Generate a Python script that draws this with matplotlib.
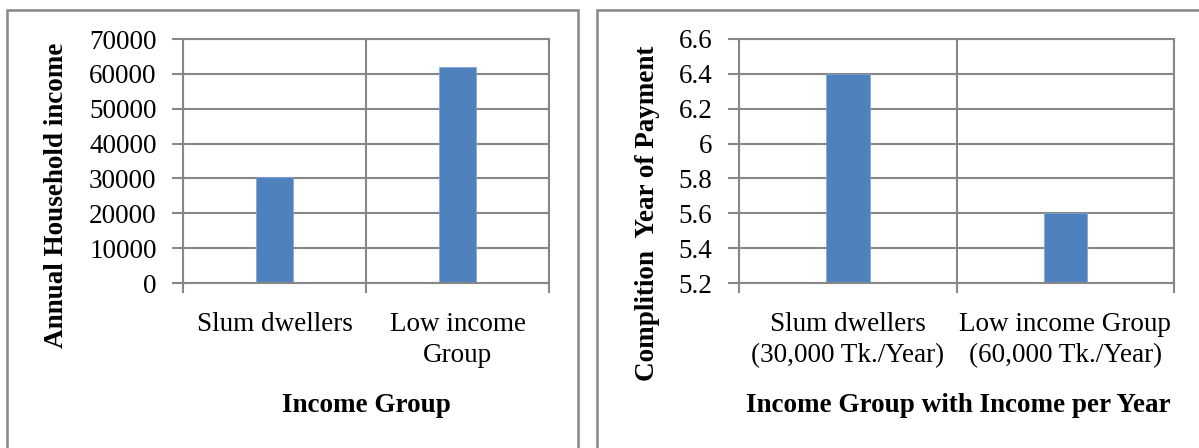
import matplotlib.pyplot as plt
from matplotlib.patches import Rectangle

plt.rcParams['font.family'] = ['Liberation Serif', 'DejaVu Serif']

# left chart
groups1 = ["Slum dwellers", "Low income\nGroup"]
income = [30500, 62000]
# right chart
groups2 = ["Slum dwellers\n(30,000 Tk./Year)", "Low income Group\n(60,000 Tk./Year)"]
years = [6.4, 5.6]

W, H = 1199, 448
fig = plt.figure(figsize=(W / 100, H / 100), dpi=100)

bar_color = "#4F81BD"
grid_color = "#878787"
fs = 19.5


def px_axes(x0, y0, x1, y1):
    return fig.add_axes([x0 / W, 1 - y1 / H, (x1 - x0) / W, (y1 - y0) / H])


def style(ax, ymin, ymax, step, labels):
    n = len(labels)
    ax.set_xlim(0, n)
    ax.set_ylim(ymin, ymax)
    ax.set_xticks([i + 0.5 for i in range(n)])
    ax.set_xticklabels(labels, fontsize=fs, linespacing=1.3)
    ax.tick_params(axis='x', length=0, pad=21)
    ax.tick_params(axis='y', length=8, width=1.5, color=grid_color, labelsize=fs, pad=11)
    ax.set_yticks([ymin + i * step for i in range(round((ymax - ymin) / step) + 1)])
    ax.grid(axis='y', color=grid_color, linewidth=1.5)
    for i in range(n + 1):
        ax.axvline(i, color=grid_color, linewidth=1.5, zorder=0.5)
        ax.plot([i, i], [0, -0.035], transform=ax.get_xaxis_transform(),
                color=grid_color, linewidth=1.5, clip_on=False)
    for s in ax.spines.values():
        s.set_color(grid_color)
        s.set_linewidth(1.5)
    ax.set_axisbelow(True)


ax1 = px_axes(183, 39, 549, 283)
ax1.bar([0.5, 1.5], income, width=0.2, color=bar_color, edgecolor="#7fa6d6", linewidth=0.5, zorder=2)
style(ax1, 0, 70000, 10000, groups1)
ax1.set_yticklabels([str(v) for v in range(0, 70001, 10000)])
fig.text(57 / W, 1 - 195 / H, "Annual Household income", fontsize=fs, fontweight='bold',
         rotation=90, ha='center', va='center')
fig.text(366 / W, 1 - 405 / H, "Income Group", fontsize=fs, fontweight='bold', ha='center', va='center')

ax2 = px_axes(739, 39, 1174, 283)
ax2.bar([0.5, 1.5], years, width=0.2, bottom=0, color=bar_color, edgecolor="#7fa6d6", linewidth=0.5, zorder=2)
style(ax2, 5.2, 6.6, 0.2, groups2)
ax2.set_yticklabels(["5.2", "5.4", "5.6", "5.8", "6", "6.2", "6.4", "6.6"])
fig.text(648 / W, 1 - 213 / H, "Complition  Year of Payment", fontsize=fs, fontweight='bold',
         rotation=90, ha='center', va='center')
fig.text(958 / W, 1 - 405 / H, "Income Group with Income per Year", fontsize=fs, fontweight='bold',
         ha='center', va='center')

# panel borders
fig.add_artist(Rectangle((7 / W, -0.05), (578 - 7) / W, 1.05 - 10 / H, transform=fig.transFigure,
                         fill=False, edgecolor=grid_color, linewidth=1.8))
fig.add_artist(Rectangle((597 / W, -0.05), 0.6, 1.05 - 10 / H, transform=fig.transFigure,
                         fill=False, edgecolor=grid_color, linewidth=1.8))

fig.savefig("out.png", dpi=100)
